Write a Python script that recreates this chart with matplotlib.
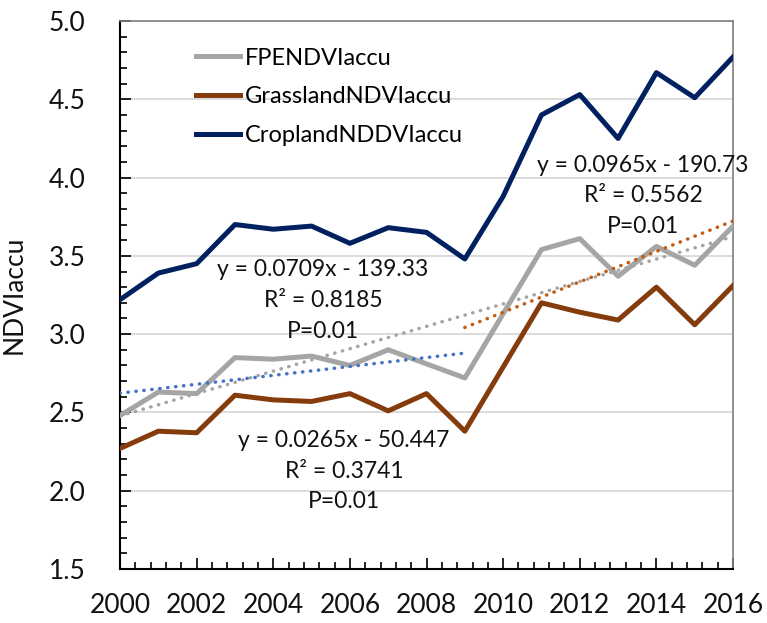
import numpy as np
import matplotlib
matplotlib.use("Agg")
import matplotlib.pyplot as plt
from matplotlib.ticker import MultipleLocator

plt.rcParams['font.family'] = ['Lato', 'DejaVu Sans']

years = np.arange(2000, 2017)
fpe = [2.48, 2.63, 2.62, 2.85, 2.84, 2.86, 2.80, 2.90, 2.81, 2.72,
       3.13, 3.54, 3.61, 3.37, 3.56, 3.44, 3.69]
grass = [2.27, 2.38, 2.37, 2.61, 2.58, 2.57, 2.62, 2.51, 2.62, 2.38,
         2.79, 3.20, 3.14, 3.09, 3.30, 3.06, 3.31]
crop = [3.22, 3.39, 3.45, 3.70, 3.67, 3.69, 3.58, 3.68, 3.65, 3.48,
        3.88, 4.40, 4.53, 4.25, 4.67, 4.51, 4.77]

eq_all = ["y = 0.0709x - 139.33", "R² = 0.8185", "P=0.01"]
eq_early = ["y = 0.0265x - 50.447", "R² = 0.3741", "P=0.01"]
eq_late = ["y = 0.0965x - 190.73", "R² = 0.5562", "P=0.01"]

fig = plt.figure(figsize=(7.67, 6.23), dpi=100)
ax = fig.add_axes([0.1565, 0.0867, 0.7992, 0.8796])

ax.plot(years, fpe, color='#A5A5A5', lw=3.6, label='FPENDVIaccu', zorder=3)
ax.plot(years, grass, color='#843C0C', lw=3.6, label='GrasslandNDVIaccu', zorder=3)
ax.plot(years, crop, color='#002060', lw=3.6, label='CroplandNDDVIaccu', zorder=3)

# trend lines fitted on the FPE series
def trend(x0, x1, color):
    m = (years >= x0) & (years <= x1)
    k, b = np.polyfit(years[m], np.array(fpe)[m], 1)
    xs = np.array([x0, x1])
    ax.plot(xs, k * xs + b, color=color, lw=2.5, linestyle=(0, (0.1, 2.2)),
            dash_capstyle='round', zorder=4)

trend(2000, 2016, '#A5A5A5')
trend(2000, 2009, '#4472C4')
trend(2009, 2016, '#C55A11')

def eqtext(x, y, lines):
    for i, t in enumerate(lines):
        ax.text(x, y - i * 0.195, t, ha='center', va='center', fontsize=16.5,
                color='#111111', zorder=5)

eqtext(2005.3, 3.41, eq_all)
eqtext(2005.85, 2.32, eq_early)
eqtext(2013.65, 4.08, eq_late)

ax.set_xlim(2000, 2016)
ax.set_ylim(1.5, 5.0)
ax.xaxis.set_major_locator(MultipleLocator(2))
ax.xaxis.set_minor_locator(MultipleLocator(0.4))
ax.yaxis.set_major_locator(MultipleLocator(0.5))
ax.yaxis.set_minor_locator(MultipleLocator(0.1))
ax.yaxis.set_major_formatter(matplotlib.ticker.FormatStrFormatter('%.1f'))
ax.tick_params(which='both', direction='in', color='black', width=1.2)
ax.tick_params(which='major', length=8)
ax.tick_params(which='minor', length=5)
ax.tick_params(axis='y', which='major', pad=25, labelsize=19, labelcolor='#111111')
ax.tick_params(axis='x', which='major', pad=17, labelsize=19, labelcolor='#111111')

ax.grid(axis='y', which='major', color='#D9D9D9', lw=1.3, zorder=0)
ax.set_axisbelow(True)
for s in ['top', 'right']:
    ax.spines[s].set_color('#7F7F7F')
    ax.spines[s].set_linewidth(1.2)
for s in ['left', 'bottom']:
    ax.spines[s].set_color('black')
    ax.spines[s].set_linewidth(1.5)

ax.set_ylabel('NDVIaccu', fontsize=19, color='#111111')
ax.yaxis.set_label_coords(-0.152, 0.5)

ax.legend(loc='upper left', bbox_to_anchor=(0.09, 0.99), frameon=False,
          fontsize=17, handlelength=1.85, handletextpad=0.2, labelspacing=0.75)

fig.savefig('out.png', dpi=100)
